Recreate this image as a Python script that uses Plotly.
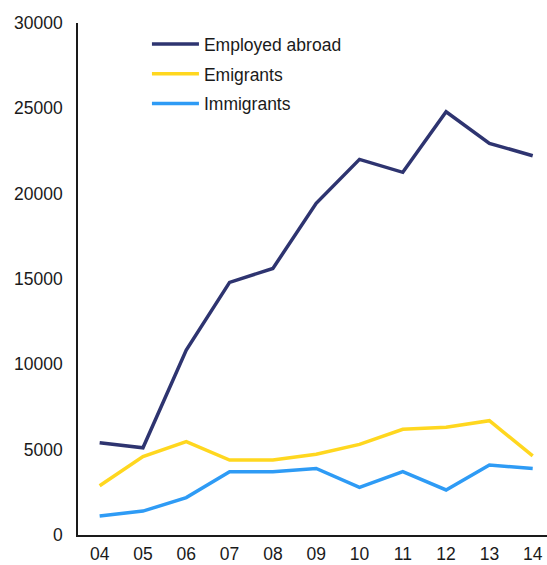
import plotly.graph_objs as go

# Data
years = ["04", "05", "06", "07", "08", "09", "10", "11", "12", "13", "14"]
employed_abroad = [5410, 5110, 10840, 14800, 15620, 19430, 22010, 21250, 24800, 22950, 22220]
emigrants = [2890, 4590, 5470, 4390, 4390, 4730, 5310, 6190, 6310, 6700, 4630]
immigrants = [1110, 1400, 2190, 3710, 3710, 3900, 2790, 3710, 2640, 4100, 3900]

fig = go.Figure()

fig.add_trace(go.Scatter(x=years, y=employed_abroad, mode='lines', name='Employed abroad',
                         legendgroup='a', line=dict(color='#2e3470', width=3.5)))
fig.add_trace(go.Scatter(x=years, y=emigrants, mode='lines', name='Emigrants',
                         legendgroup='b', line=dict(color='#ffd71f', width=3.5)))
fig.add_trace(go.Scatter(x=years, y=immigrants, mode='lines', name='Immigrants',
                         legendgroup='c', line=dict(color='#2e9bf5', width=3.5)))

fig.update_layout(
    width=547, height=565,
    margin=dict(l=78, r=0, t=23, b=30),
    plot_bgcolor='white', paper_bgcolor='white',
    font=dict(family='Liberation Sans, Arial, sans-serif', size=17.5, color='#1a1a1a'),
    showlegend=True,
    legend=dict(x=0.147, y=0.994, xanchor='left', yanchor='top',
                bgcolor='rgba(0,0,0,0)', itemwidth=47, traceorder='grouped',
                tracegroupgap=4, font=dict(size=17.5)),
)

fig.update_xaxes(type='category', range=[-0.5, 10.33], showgrid=False, zeroline=False,
                 showline=True, linecolor='#1a1a1a', linewidth=1.5, ticks='',
                 automargin=False, ticklabelstandoff=2)
fig.update_yaxes(range=[0, 30000], dtick=5000, tickformat='d', showgrid=False,
                 zeroline=False, showline=True, linecolor='#1a1a1a', linewidth=1.5,
                 ticks='', ticklabelstandoff=10, automargin=False)

# drop the default page margin so the figure sits at the window's corner
fig.write_html("out.html", config={'displayModeBar': False},
               post_script="document.body.style.margin='0';")
